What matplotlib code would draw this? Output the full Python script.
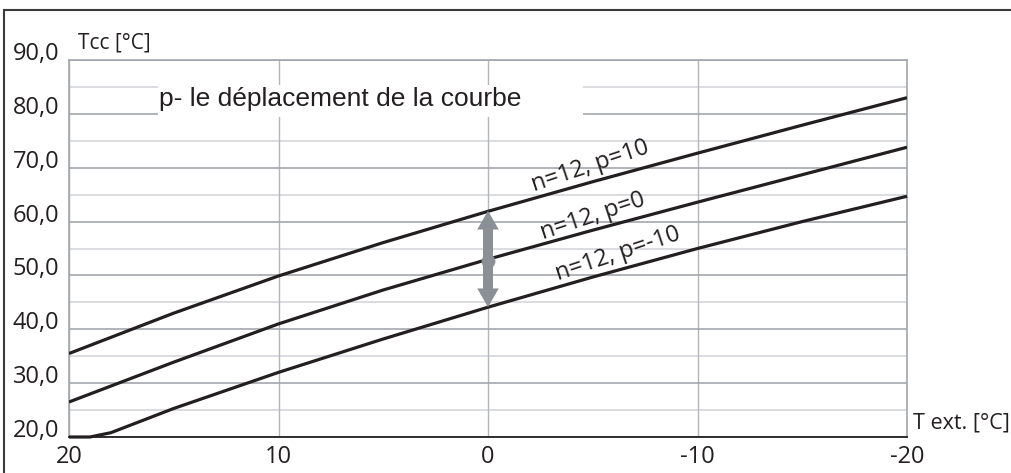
import matplotlib
matplotlib.use("Agg")
import matplotlib.pyplot as plt
from matplotlib.patches import Rectangle, FancyArrowPatch
from matplotlib.lines import Line2D

# outside temperature (°C) and flow temperature (°C)
t_ext = [20, 15, 10, 5, 0, -5, -10, -15, -20]
tcc_p10 = [35.5, 43.0, 49.9, 56.1, 61.9, 67.4, 72.7, 77.9, 83.0]
tcc_p0 = [26.5, 33.9, 41.0, 47.3, 53.0, 58.4, 63.6, 68.7, 73.8]
t_ext_low = [20, 19, 18, 15, 10, 5, 0, -5, -10, -15, -20]
tcc_pm10 = [20.0, 20.0, 20.8, 25.3, 32.0, 38.2, 44.1, 49.7, 55.0, 60.0, 64.7]

curve_labels = ["n=12, p=10", "n=12, p=0", "n=12, p=-10"]
x_ticks = [20, 10, 0, -10, -20]
x_tick_labels = ["20", "10", "0", "-10", "-20"]
y_ticks = [20, 30, 40, 50, 60, 70, 80, 90]
y_tick_labels = ["20,0", "30,0", "40,0", "50,0", "60,0", "70,0", "80,0", "90,0"]
y_minor = [25, 35, 45, 55, 65, 75, 85]

# shift arrow at T ext = 0 (p=-10 -> p=0 -> p=10)
shift_x = 0
shift_low, shift_mid, shift_high = 44.1, 52.7, 62.0

W, H = 1011, 473
fig = plt.figure(figsize=(W / 100, H / 100), dpi=100)
ax = fig.add_axes([69 / W, 1 - 437 / H, (907 - 69) / W, (437 - 60) / H])

ax.set_xlim(20, -20)
ax.set_ylim(20, 90)

# grid
ax.set_yticks(y_ticks)
ax.set_xticks(x_ticks)
ax.grid(True, which="major", axis="y", color="#a3a7ab", lw=1.2, zorder=0)
ax.grid(True, which="major", axis="x", color="#b3b7bb", lw=1.0, zorder=0)
for yv in y_minor:
    ax.axhline(yv, color="#d3d6d9", lw=1.2, zorder=0.5)
ax.set_axisbelow(True)

ax.set_yticklabels(y_tick_labels, family="Open Sans", fontsize=17, color="#231f20")
for lab in ax.get_yticklabels():
    lab.set_va("baseline")
ax.set_xticklabels(x_tick_labels, family="Open Sans", fontsize=17, color="#231f20")
ax.tick_params(axis="both", which="both", length=0)
ax.tick_params(axis="y", pad=7)
ax.tick_params(axis="x", pad=6)

for s in ["left", "top", "right"]:
    ax.spines[s].set_color("#a3a7ab")
    ax.spines[s].set_linewidth(1.2)
ax.spines["bottom"].set_color("#231f20")
ax.spines["bottom"].set_linewidth(1.3)

# curves
kw = dict(color="#231f20", lw=2.3, solid_capstyle="butt", solid_joinstyle="round", zorder=3)
ax.plot(t_ext, tcc_p10, **kw)
ax.plot(t_ext, tcc_p0, **kw)
ax.plot(t_ext_low, tcc_pm10, clip_on=False, **kw)

# curve labels
lab_kw = dict(family="Open Sans", fontsize=17, color="#231f20", rotation=18.4,
              rotation_mode="anchor", ha="center", va="center", zorder=4)
ax.text(-4.9, 70.2, curve_labels[0], **lab_kw)
ax.text(-5.0, 61.0, curve_labels[1], **lab_kw)
ax.text(-6.2, 54.0, curve_labels[2], **lab_kw)

# shift arrow
arrow_col = "#8b9097"
for end in (shift_high, shift_low):
    ax.add_patch(FancyArrowPatch((shift_x, shift_mid), (shift_x, end),
                                 arrowstyle="simple,head_length=13.5,head_width=15.5,tail_width=7.2",
                                 mutation_scale=1, shrinkA=0, shrinkB=0,
                                 color=arrow_col, lw=0, zorder=5))
ax.plot(shift_x, shift_mid, "o", ms=10, color=arrow_col, mew=0, zorder=6)

# caption box (hides the grid behind the caption)
ax.add_patch(Rectangle((-4.53, 79.35), 15.75 + 4.53, 5.95, facecolor="white",
                       edgecolor="none", zorder=2))
ax.text(15.7, 81.5, "p- le déplacement de la courbe", family="Liberation Sans",
        fontsize=19, color="#231f20", ha="left", va="baseline", zorder=4)

# axis titles
fig.text(78 / W, 1 - 48 / H, "Tcc [°C]", family="Open Sans", fontsize=15,
         color="#231f20", ha="left", va="baseline")
fig.text(913 / W, 1 - 428 / H, "T ext. [°C]", family="Open Sans", fontsize=15.5,
         color="#231f20", ha="left", va="baseline")

# outer frame (left and top only visible)
fig.add_artist(Line2D([4 / W, 4 / W], [0, 1 - 10 / H], color="#3a3a3a", lw=1.5))
fig.add_artist(Line2D([4 / W, 1], [1 - 10 / H, 1 - 10 / H], color="#3a3a3a", lw=1.5))

fig.savefig("out.png", dpi=100)
